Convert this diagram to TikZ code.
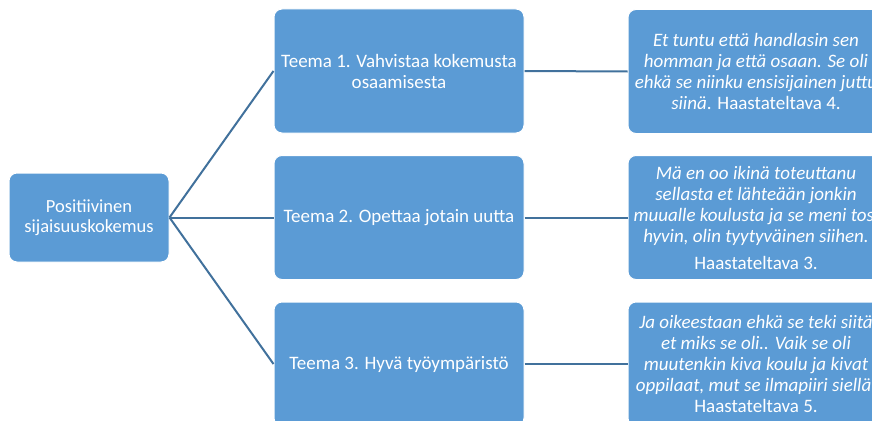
\documentclass[tikz,border=0pt]{standalone}
\usepackage{fontspec}
\setmainfont{Carlito}
\definecolor{boxblue}{HTML}{5B9BD5}
\definecolor{linkblue}{HTML}{41719C}
\begin{document}
\begin{tikzpicture}[x=1pt,y=-1pt,
  box/.style={draw=white, line width=1pt, fill=boxblue, rounded corners=8pt, text=white,
    align=center, inner sep=0pt, font=\fontsize{19}{21}\selectfont},
  link/.style={draw=linkblue, line width=2pt}]
\useasboundingbox (0,0) rectangle (872,420);
\clip (0,0) rectangle (872,420);
\node[box, minimum width=160pt, minimum height=89pt, font=\fontsize{18.5}{20.5}\selectfont] (root) at (89,217.5) {Positiivinen\\sijaisuuskokemus};
\node[box, minimum width=250pt, minimum height=124pt] (t1) at (399,71) {Teema 1. Vahvistaa kokemusta\\osaamisesta};
\node[box, minimum width=250pt, minimum height=124pt] (t2) at (399,217.5) {Teema 2. Opettaa jotain uutta};
\node[box, minimum width=250pt, minimum height=124pt] (t3) at (399,364) {Teema 3. Hyvä työympäristö};
\node[box, minimum width=256pt, minimum height=124pt] (q1) at (756,71.5) {\itshape Et tuntu että handlasin sen\\\itshape homman ja että osaan. Se oli\\\itshape ehkä se niinku ensisijainen juttu\\\textit{siinä}. Haastateltava 4.};
\node[box, minimum width=256pt, minimum height=124pt] (q2) at (756,217.5) {\itshape Mä en oo ikinä toteuttanu\\\itshape sellasta et lähteään jonkin\\\itshape muualle koulusta ja se meni tosi\\\itshape hyvin, olin tyytyväinen siihen.\\[6pt] Haastateltava 3.};
\node[box, minimum width=256pt, minimum height=124pt] (q3) at (756,364) {\itshape Ja oikeestaan ehkä se teki siitä\\\itshape et miks se oli.. Vaik se oli\\\itshape muutenkin kiva koulu ja kivat\\\itshape oppilaat, mut se ilmapiiri siellä.\\Haastateltava 5.};
\draw[link] (root.east) -- (t1.west);
\draw[link] (root.east) -- (t2.west);
\draw[link] (root.east) -- (t3.west);
\draw[link] (t1.east) -- (q1.west);
\draw[link] (t2.east) -- (q2.west);
\draw[link] (t3.east) -- (q3.west);
\end{tikzpicture}
\end{document}
